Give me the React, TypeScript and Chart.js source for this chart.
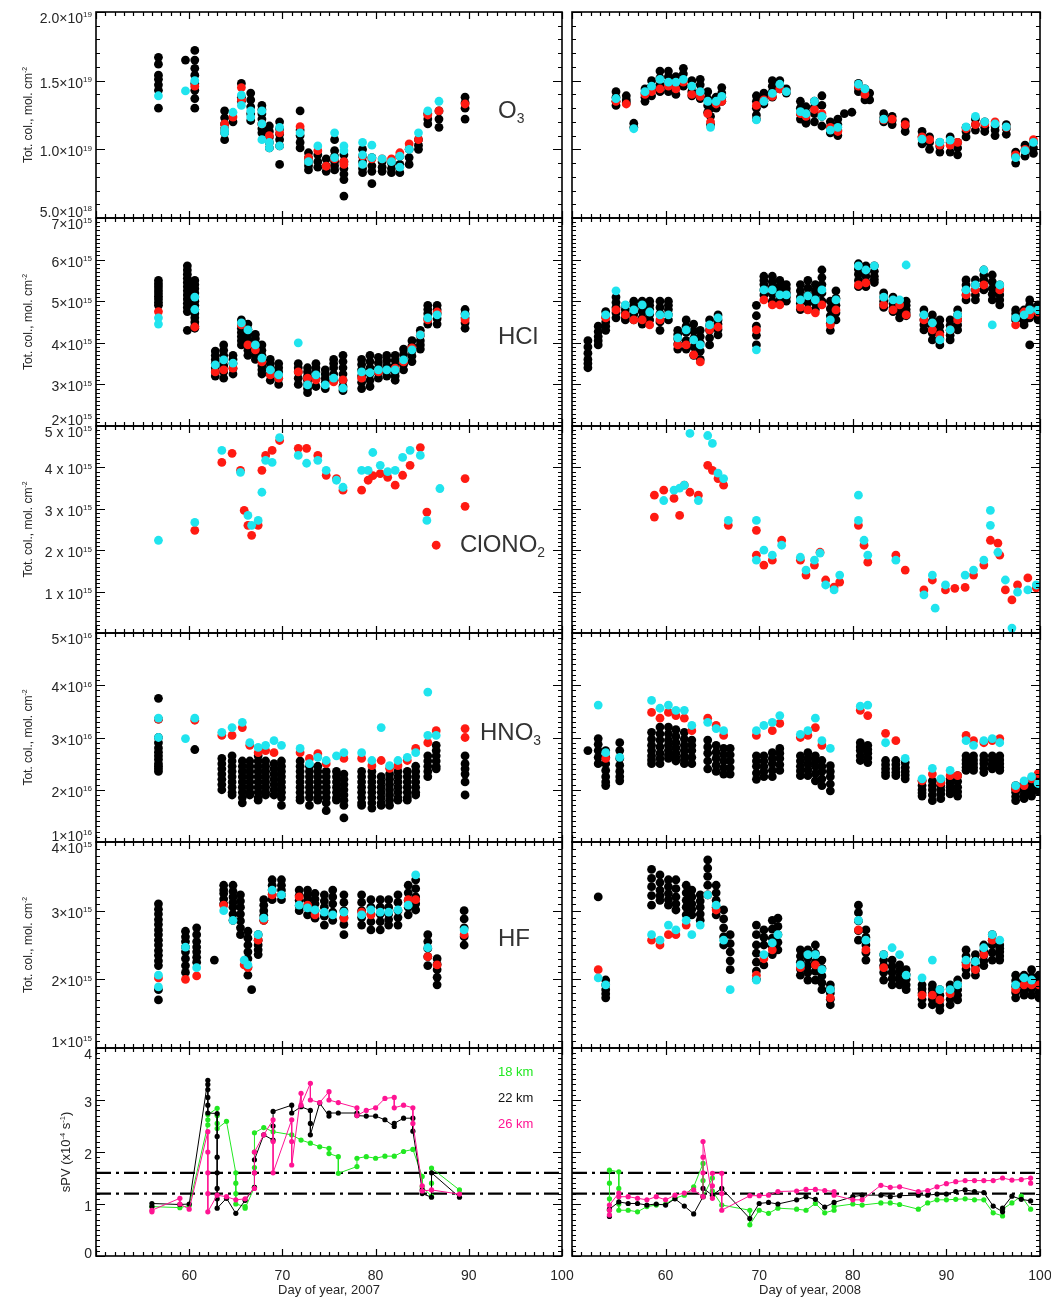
import React, { useEffect, useRef } from 'react';
import { Chart, registerables } from 'chart.js';
Chart.register(...registerables);

const FONT = '"Liberation Sans", Arial, Helvetica, sans-serif';

// ---------------- axes / tick labels ----------------
const DAY_MIN = 50;
const DAY_MAX = 100;
const DAY_TICK_LABELS = [60, 70, 80, 90, 100];
const YEARS = ['2007', '2008'];

const O3_TICKS = [5, 10, 15, 20];
const O3_TICK_TEXT = ['5.0×10', '1.0×10', '1.5×10', '2.0×10'];
const O3_TICK_EXP = ['18', '19', '19', '19'];
const HCL_TICKS = [2, 3, 4, 5, 6, 7];
const HCL_TICK_TEXT = ['2×10', '3×10', '4×10', '5×10', '6×10', '7×10'];
const HCL_TICK_EXP = ['15', '15', '15', '15', '15', '15'];
const CLONO2_TICKS = [1, 2, 3, 4, 5];
const CLONO2_TICK_TEXT = ['1 x 10', '2 x 10', '3 x 10', '4 x 10', '5 x 10'];
const CLONO2_TICK_EXP = ['15', '15', '15', '15', '15'];
const HNO3_TICKS = [1, 2, 3, 4, 5];
const HNO3_TICK_TEXT = ['1×10', '2×10', '3×10', '4×10', '5×10'];
const HNO3_TICK_EXP = ['16', '16', '16', '16', '16'];
const HF_TICKS = [1, 2, 3, 4];
const HF_TICK_TEXT = ['1×10', '2×10', '3×10', '4×10'];
const HF_TICK_EXP = ['15', '15', '15', '15'];
const SPV_TICKS = [0, 1, 2, 3, 4];
const SPV_TICK_TEXT = ['0', '1', '2', '3', '4'];
const SPV_TICK_EXP = ['', '', '', '', ''];
const SPV_LIMITS = [1.6, 1.2];

// ---------------- data: clusters [day, value, value, ...] ----------------
// O3 (1e18 molec/cm2)
const O3_L_BLACK = [
  [56.7, 16.7, 16.2, 15.4, 15.1, 14.7, 14.3, 13.0], [59.6, 16.5],
  [60.6, 17.2, 16.5, 15.9, 15.4, 14.8, 14.3, 13.7, 13.0], [63.8, 12.8, 12.3, 11.85, 11.5, 11.2, 10.7],
  [64.7, 12.0], [65.6, 14.8, 13.8, 13.5], [66.6, 14.1, 13.6, 13.1, 12.6, 12.1],
  [67.8, 13.2, 12.9, 12.6, 12.2, 11.85, 11.5, 11.2], [68.6, 11.7, 11.3, 10.9, 10.5, 10.1], [69.7, 12.0, 11.5, 11.1, 10.7, 10.25, 8.9],
  [71.9, 12.8, 11.4, 11.0, 10.5, 10.1], [72.8, 9.75, 9.4, 9.1, 8.8, 8.5], [73.8, 9.6, 9.1, 8.7], [74.7, 9.3, 8.8, 8.4],
  [75.6, 10.7, 9.9, 9.5, 9.1, 8.8, 8.5], [76.6, 9.6, 9.1, 8.6, 8.2, 7.8, 6.6], [78.6, 10.0, 9.5, 9.1, 8.6, 8.3],
  [79.6, 9.4, 8.8, 8.4, 7.5], [80.7, 9.1, 8.7, 8.4], [81.7, 9.0, 8.6, 8.3], [82.6, 9.5, 8.9, 8.3],
  [83.6, 10.0, 9.4, 8.9], [84.6, 10.7, 10.3, 10.0], [85.6, 12.6, 12.2, 11.85], [86.8, 12.8, 12.2, 11.6],
  [89.6, 13.8, 13.4, 13.0, 12.2],
];
const O3_L_RED = [
  [60.6, 14.6], [63.8, 11.85, 11.5], [64.7, 12.35], [65.6, 14.5, 13.6], [67.8, 11.85], [68.6, 11.0],
  [69.7, 11.2], [71.9, 11.65], [72.8, 9.4], [73.8, 9.9], [74.7, 8.77], [75.6, 9.3], [76.6, 9.1, 8.9],
  [78.6, 9.5], [79.6, 9.3], [80.7, 9.3], [81.7, 9.3], [82.6, 9.75], [83.6, 10.4], [84.6, 10.7],
  [85.6, 12.5], [86.8, 12.8], [89.6, 13.3],
];
const O3_L_CYAN = [
  [56.7, 13.9], [59.6, 14.25], [60.6, 15.0], [63.8, 11.2, 11.45], [64.7, 12.7], [65.6, 13.95, 13.2],
  [66.6, 12.8, 12.35], [67.8, 12.8, 11.85, 10.7], [68.6, 10.5, 10.1], [69.7, 11.6, 10.25], [71.9, 11.2],
  [72.8, 9.1], [73.8, 10.25], [75.6, 11.2, 9.4], [76.6, 10.25, 9.9], [78.6, 10.5, 9.6, 8.9],
  [79.6, 10.3, 9.4], [80.7, 9.3], [81.7, 9.1], [82.6, 9.5, 8.7], [83.6, 10.0], [84.6, 11.2],
  [85.6, 12.8], [86.8, 13.5],
];
const O3_R_BLACK = [
  [54.7, 14.2, 13.8, 13.5, 13.2], [55.8, 13.9, 13.6, 13.4], [56.6, 11.9, 11.6], [57.8, 14.4, 14.1, 13.8, 13.5],
  [58.5, 15.0, 14.6, 14.3, 13.9], [59.4, 15.7, 15.2, 14.7, 14.2], [60.3, 15.7, 15.3, 14.9, 14.5, 14.2],
  [61.1, 15.3, 14.9, 14.5, 14.0], [61.9, 15.9, 15.5, 15.0, 14.6], [62.8, 15.0, 14.6, 14.2, 13.9],
  [63.7, 15.1, 14.7, 14.2, 13.7], [64.5, 14.2, 13.7, 13.2, 12.7], [64.8, 13.5, 13.0, 12.4, 11.8],
  [65.4, 13.8, 13.4, 13.0], [66.0, 14.5, 14.1, 13.8, 13.5], [69.7, 13.9, 13.5, 13.0, 12.5, 12.2],
  [70.5, 14.1, 13.8, 13.5, 13.3], [71.4, 15.0, 14.6, 14.2, 13.8], [72.2, 15.0, 14.7, 14.4], [72.9, 14.4, 14.1],
  [74.4, 13.5, 13.0, 12.6, 12.2], [75.0, 13.1, 12.7, 12.2, 11.9], [75.9, 13.5, 13.1, 12.6, 12.0],
  [76.7, 13.9, 13.2, 12.4, 11.7], [77.6, 12.0, 11.6, 11.2], [78.4, 12.2, 11.8, 11.4, 11.0], [79.1, 12.6],
  [79.9, 12.7], [80.6, 14.8, 14.5, 14.2], [81.3, 14.4, 14.0, 13.6], [81.8, 14.1, 13.6],
  [83.3, 12.6, 12.3, 12.0], [84.2, 12.4, 12.1, 11.8], [85.6, 12.0, 11.7, 11.3], [87.4, 11.3, 10.9, 10.4],
  [88.2, 10.9, 10.5, 10.0], [89.3, 10.5, 10.2, 9.8], [90.4, 10.9, 10.5, 9.8], [91.2, 10.5, 10.1, 9.6],
  [92.1, 11.6, 11.3, 10.9], [93.1, 12.2, 11.8, 11.4], [94.1, 12.0, 11.6, 11.3], [95.2, 11.7, 11.4, 11.0],
  [96.4, 11.8, 11.5, 11.1], [97.4, 9.8, 9.5, 9.0], [98.4, 10.3, 9.9, 9.5], [99.3, 10.5, 10.1, 9.7],
];
const O3_R_RED = [
  [54.7, 13.5], [55.8, 13.3], [57.8, 14.0], [58.5, 14.2], [59.4, 14.4], [60.3, 14.6], [61.1, 14.4],
  [61.9, 14.9], [62.8, 14.0], [63.7, 13.85], [64.5, 12.6], [64.8, 12.0], [65.4, 13.3], [66.0, 13.5],
  [69.7, 13.2], [70.5, 13.6], [71.4, 13.85], [72.2, 14.4], [74.4, 12.6], [75.0, 12.4], [75.9, 12.9],
  [76.7, 12.6], [77.6, 11.6], [78.4, 11.3], [80.6, 14.6], [81.3, 14.0], [83.3, 12.15], [84.2, 12.2],
  [85.6, 11.8], [87.4, 10.9], [88.2, 10.7], [89.3, 10.3], [90.4, 10.3], [91.2, 10.5], [92.1, 11.5],
  [93.1, 11.8], [94.1, 11.85], [95.2, 12.0], [96.4, 11.6], [97.4, 9.6], [98.4, 10.0], [99.3, 10.7],
];
const O3_R_CYAN = [
  [54.7, 13.7], [56.6, 11.5], [57.8, 14.2], [58.5, 14.6], [59.4, 15.1], [60.3, 14.9], [61.1, 14.9],
  [61.9, 15.1], [62.8, 14.6], [63.7, 14.2], [64.5, 13.5], [64.8, 11.6], [65.4, 13.5], [66.0, 13.85],
  [69.7, 12.15], [70.5, 13.5], [71.4, 14.07], [72.2, 14.74], [72.9, 14.2], [74.4, 12.74], [75.0, 12.6],
  [75.9, 13.5], [76.7, 12.4], [77.6, 11.4], [78.4, 11.6], [80.6, 14.74], [81.3, 14.4], [83.3, 12.2],
  [87.4, 10.74], [89.3, 10.52], [90.4, 10.67], [92.1, 11.63], [93.1, 12.4], [94.1, 12.0], [95.2, 11.85],
  [96.4, 11.63], [97.4, 9.4], [98.4, 9.9], [99.3, 10.5],
];

// HCl (1e15 molec/cm2)
const HCL_L_BLACK = [
  [56.7, 5.5, 5.42, 5.35, 5.27, 5.2, 5.12, 5.05, 4.97, 4.9],
  [59.8, 5.85, 5.75, 5.65, 5.55, 5.45, 5.35, 5.25, 5.15, 5.05, 4.95, 4.85, 4.75, 4.3],
  [60.6, 5.5, 5.4, 5.3, 5.2, 5.1, 5.0, 4.9, 4.8, 4.7, 4.6, 4.5, 4.4, 4.35],
  [62.8, 3.8, 3.7, 3.6, 3.5, 3.4, 3.3, 3.2], [63.7, 3.95, 3.82, 3.7, 3.58, 3.45, 3.3, 3.15],
  [64.7, 3.7, 3.6, 3.5, 3.38, 3.25], [65.6, 4.55, 4.45, 4.35, 4.25, 4.15, 4.05, 3.95],
  [66.3, 4.45, 4.32, 4.2, 4.08, 3.95, 3.82, 3.7], [67.1, 4.2, 4.1, 4.0, 3.9, 3.8, 3.7, 3.6],
  [67.8, 3.95, 3.82, 3.7, 3.58, 3.45, 3.35, 3.25], [68.7, 3.6, 3.5, 3.4, 3.25, 3.1],
  [69.6, 3.5, 3.4, 3.3, 3.15, 3.0], [71.7, 3.5, 3.4, 3.3, 3.15, 3.0],
  [72.7, 3.4, 3.3, 3.2, 3.1, 3.0, 2.9, 2.8], [73.6, 3.5, 3.4, 3.3, 3.15, 2.95],
  [74.6, 3.35, 3.25, 3.15, 3.05, 2.9], [75.5, 3.6, 3.5, 3.4, 3.25, 3.1],
  [76.5, 3.7, 3.55, 3.4, 3.25, 3.1, 2.95, 2.85], [78.5, 3.6, 3.48, 3.35, 3.2, 3.05, 2.9],
  [79.4, 3.7, 3.55, 3.4, 3.25, 3.1, 2.95], [80.3, 3.65, 3.52, 3.4, 3.28, 3.15],
  [81.2, 3.7, 3.58, 3.45, 3.32, 3.2], [82.1, 3.7, 3.58, 3.45, 3.3, 3.2, 3.1],
  [83.0, 3.85, 3.72, 3.6, 3.48, 3.35], [83.9, 4.05, 3.92, 3.8, 3.68, 3.55],
  [84.8, 4.3, 4.18, 4.05, 3.95, 3.85], [85.6, 4.9, 4.8, 4.7, 4.58, 4.45],
  [86.6, 4.9, 4.8, 4.7, 4.58, 4.45], [89.6, 4.8, 4.7, 4.6, 4.48, 4.35],
];
const HCL_L_RED = [
  [56.7, 4.75], [60.6, 4.38], [62.8, 3.3], [63.7, 3.35], [64.7, 3.39], [65.6, 4.43], [66.3, 3.95],
  [67.1, 3.83], [67.8, 3.54], [68.7, 3.23], [69.6, 3.15], [71.7, 3.3], [72.7, 3.15], [73.6, 3.11],
  [75.5, 3.06], [76.5, 3.11], [78.5, 3.15], [80.3, 3.3], [82.1, 3.39], [83.0, 3.54], [83.9, 3.88],
  [84.8, 4.19], [85.6, 4.55], [86.6, 4.74], [89.6, 4.55],
];
const HCL_L_CYAN = [
  [56.7, 4.6, 4.45], [60.6, 5.1, 4.8], [62.8, 3.47], [63.7, 3.59], [64.7, 3.51], [65.6, 4.48],
  [66.3, 4.31], [67.1, 3.95], [67.8, 3.63], [68.7, 3.35], [69.6, 3.23], [71.7, 4.0], [72.7, 2.99],
  [73.6, 3.23], [74.6, 2.99], [75.5, 3.15], [76.5, 2.91], [78.5, 3.3], [79.4, 3.28], [80.3, 3.35],
  [81.2, 3.35], [82.1, 3.35], [83.0, 3.59], [83.9, 3.83], [84.8, 4.19], [85.6, 4.6], [86.6, 4.67],
  [89.6, 4.67],
];
const HCL_R_BLACK = [
  [51.7, 4.05, 3.9, 3.75, 3.6, 3.5, 3.4], [52.8, 4.4, 4.27, 4.15, 4.05, 3.95], [53.6, 4.75, 4.62, 4.5, 4.4, 4.3],
  [54.7, 5.1, 4.97, 4.85, 4.72, 4.6], [55.7, 4.9, 4.8, 4.7, 4.62, 4.55], [56.6, 5.0, 4.9, 4.8, 4.68, 4.55],
  [57.5, 5.0, 4.88, 4.75, 4.6, 4.45], [58.3, 5.0, 4.9, 4.8, 4.68, 4.55], [59.4, 5.0, 4.85, 4.7, 4.5, 4.3],
  [60.3, 5.0, 4.9, 4.8, 4.68, 4.55], [61.3, 4.3, 4.2, 4.1, 3.97, 3.85], [62.2, 4.55, 4.4, 4.25, 4.05, 3.85],
  [63.0, 4.45, 4.28, 4.1, 3.9, 3.7], [63.7, 4.3, 4.15, 4.0, 3.8, 3.6], [64.7, 4.55, 4.42, 4.3, 4.12, 3.95],
  [65.6, 4.67, 4.55, 4.45, 4.32, 4.19], [69.7, 4.9, 4.65, 4.4, 4.18, 3.95], [70.5, 5.6, 5.5, 5.4, 5.27, 5.15],
  [71.4, 5.6, 5.47, 5.35, 5.17, 5.0], [72.2, 5.5, 5.37, 5.25, 5.12, 5.0], [72.9, 5.4, 5.3, 5.2, 5.1, 5.0],
  [74.4, 5.4, 5.25, 5.1, 4.95, 4.8], [75.2, 5.5, 5.32, 5.15, 4.97, 4.8], [76.0, 5.4, 5.25, 5.1, 4.95, 4.8],
  [76.7, 5.75, 5.57, 5.4, 5.2, 5.0], [77.6, 5.0, 4.82, 4.65, 4.47, 4.3], [78.2, 5.25, 5.07, 4.9, 4.72, 4.55],
  [80.6, 5.9, 5.77, 5.65, 5.5, 5.35], [81.4, 5.85, 5.72, 5.6, 5.47, 5.35], [82.3, 5.85, 5.72, 5.6, 5.52, 5.45],
  [83.3, 5.2, 5.1, 5.0, 4.92, 4.85], [84.3, 5.1, 5.02, 4.95, 4.85, 4.75], [85.0, 5.0, 4.92, 4.85, 4.72, 4.6],
  [85.7, 5.0, 4.9, 4.8, 4.72, 4.65], [87.6, 4.79, 4.67, 4.55, 4.43, 4.31], [88.5, 4.67, 4.53, 4.4, 4.23, 4.07],
  [89.3, 4.55, 4.4, 4.25, 4.1, 3.95], [90.4, 4.55, 4.42, 4.3, 4.18, 4.07], [91.2, 4.79, 4.67, 4.55, 4.43, 4.31],
  [92.1, 5.51, 5.39, 5.27, 5.15, 5.03], [93.1, 5.51, 5.39, 5.27, 5.15, 5.03], [94.0, 5.75, 5.63, 5.51, 5.39, 5.27],
  [94.9, 5.63, 5.47, 5.3, 5.17, 5.03], [95.7, 5.39, 5.27, 5.15, 5.03, 4.91], [97.4, 4.79, 4.7, 4.6, 4.55],
  [98.3, 4.79, 4.7, 4.6, 4.52, 4.43], [98.9, 5.03, 4.9, 4.78, 4.6, 3.95], [99.8, 4.91, 4.8, 4.7, 4.62, 4.55],
];
const HCL_R_RED = [
  [53.6, 4.6], [54.7, 4.79], [55.7, 4.67], [56.6, 4.55], [57.5, 4.55], [58.3, 4.43], [59.4, 4.55],
  [61.3, 3.95], [62.2, 3.95], [63.0, 3.71], [63.7, 3.54], [64.7, 4.31], [65.6, 4.38], [69.7, 4.31],
  [70.5, 5.03], [71.4, 4.91], [72.2, 4.91], [74.4, 4.86], [75.2, 4.79], [76.0, 4.72], [76.7, 4.91],
  [77.6, 4.43], [78.2, 4.79], [80.6, 5.39], [81.4, 5.44], [83.3, 4.91], [84.3, 4.79], [85.0, 4.91],
  [85.7, 4.67], [87.6, 4.55], [88.5, 4.31], [89.3, 4.19], [90.4, 4.31], [91.2, 4.55], [92.1, 5.15],
  [93.1, 5.27], [94.0, 5.39], [95.7, 5.27], [97.4, 4.43], [98.3, 4.74], [98.9, 4.67], [99.8, 4.74],
];
const HCL_R_CYAN = [
  [53.6, 4.67], [54.7, 5.25], [55.7, 4.91], [56.6, 4.79], [57.5, 4.91], [58.3, 4.74], [59.4, 4.67],
  [60.3, 4.67], [61.3, 4.12], [62.2, 4.31], [63.0, 4.07], [63.7, 3.95], [64.7, 4.43], [65.6, 4.6],
  [69.7, 3.83], [70.5, 5.27], [71.4, 5.27], [72.2, 5.15], [72.9, 5.15], [74.4, 5.03], [75.2, 5.13],
  [76.0, 5.03], [76.7, 5.27], [77.6, 4.55], [78.2, 5.03], [80.6, 5.85], [81.4, 5.75], [82.3, 5.85],
  [83.3, 5.1], [84.3, 5.03], [85.0, 5.03], [85.7, 5.87], [87.6, 4.67], [88.5, 4.48], [89.3, 4.07],
  [90.4, 4.31], [91.2, 4.67], [92.1, 5.27], [93.1, 5.39], [94.0, 5.75], [94.9, 4.43], [95.7, 5.39],
  [97.4, 4.6], [98.3, 4.67], [98.9, 4.79], [99.8, 4.79],
];

// ClONO2 (1e15 molec/cm2)
const CLONO2_L_RED = [
  [60.6, 2.48], [63.5, 4.12], [64.6, 4.34], [65.5, 3.93], [65.9, 2.96], [66.3, 2.6], [66.7, 2.36],
  [67.4, 2.6], [67.8, 3.93], [68.2, 4.29], [68.9, 4.41], [69.7, 4.65], [71.7, 4.46], [72.6, 4.46],
  [73.8, 4.29], [74.7, 3.81], [75.8, 3.73], [76.5, 3.45], [78.5, 3.45], [79.2, 3.69], [79.7, 3.8],
  [80.5, 3.85], [81.3, 3.76], [82.1, 3.57], [82.9, 3.81], [83.7, 4.05], [84.8, 4.48], [85.5, 2.92],
  [86.5, 2.12], [89.6, 3.73, 3.06],
];
const CLONO2_L_CYAN = [
  [56.7, 2.24], [60.6, 2.67], [63.5, 4.41], [65.5, 3.88], [66.3, 2.84], [66.7, 2.6], [67.4, 2.72],
  [67.8, 3.4], [68.2, 4.17], [68.9, 4.12], [69.7, 4.72], [71.7, 4.29], [72.6, 4.1], [73.8, 4.17],
  [74.7, 3.93], [75.8, 3.69], [76.5, 3.52], [78.5, 3.93], [79.2, 3.93], [79.7, 4.36], [80.5, 4.05],
  [81.3, 3.9], [82.1, 3.93], [82.9, 4.24], [83.7, 4.41], [84.8, 4.29], [85.5, 2.72], [86.9, 3.49],
];
const CLONO2_R_RED = [
  [58.8, 3.33, 2.8], [59.8, 3.45], [60.9, 3.25], [61.5, 2.84], [62.0, 3.57], [62.6, 3.4], [63.5, 3.33],
  [64.5, 4.05], [65.0, 3.93], [65.6, 3.73], [66.2, 3.57], [66.7, 2.6], [69.7, 2.48, 1.88], [70.5, 1.64],
  [71.4, 1.76], [72.4, 2.24], [74.4, 1.76], [75.0, 1.4], [75.9, 1.64], [76.5, 1.95], [77.1, 1.28],
  [78.0, 1.11], [78.6, 1.23], [80.6, 2.6], [81.2, 2.12], [81.6, 1.71], [84.6, 1.88], [85.6, 1.52],
  [87.6, 1.04], [88.5, 1.28], [89.9, 1.04], [90.9, 1.08], [92.0, 1.1], [92.9, 1.4], [94.0, 1.64],
  [94.7, 2.24], [95.5, 2.17], [95.7, 1.88], [96.3, 1.04], [97.0, 0.8], [97.6, 1.16], [98.7, 1.33],
  [99.6, 1.09],
];
const CLONO2_R_CYAN = [
  [59.8, 3.2], [60.9, 3.45], [61.5, 3.5], [62.0, 3.57], [62.6, 4.82], [63.5, 3.2], [64.5, 4.77],
  [65.0, 4.58], [65.6, 3.86], [66.2, 3.73], [66.7, 2.72], [69.7, 2.72, 1.76], [70.5, 2.0], [71.4, 1.88],
  [72.4, 2.12], [74.4, 1.83], [75.0, 1.52], [75.9, 1.76], [76.5, 1.93], [77.1, 1.16], [78.0, 1.04],
  [78.6, 1.4], [80.6, 3.33, 2.72], [81.2, 2.24], [81.6, 1.88], [84.6, 1.76], [87.6, 0.92], [88.5, 1.4],
  [88.8, 0.6], [89.9, 1.16], [92.0, 1.4], [92.9, 1.52], [94.0, 1.76], [94.7, 2.96, 2.6], [95.5, 1.95],
  [96.3, 1.28], [97.0, 0.12], [97.6, 0.99], [98.7, 1.04], [99.6, 1.16],
];

// HNO3 (1e16 molec/cm2)
const HNO3_L_BLACK = [
  [56.7, 3.75, 3.35, 3.0, 2.9, 2.8, 2.72, 2.65, 2.58, 2.5, 2.45, 2.4, 2.35], [60.6, 2.77],
  [63.5, 2.6, 2.5, 2.4, 2.3, 2.2, 2.1, 2.0], [64.6, 2.65, 2.55, 2.45, 2.35, 2.25, 2.15, 2.05, 1.95, 1.9],
  [65.7, 2.55, 2.45, 2.35, 2.25, 2.15, 2.05, 1.95, 1.85, 1.75], [66.5, 2.55, 2.45, 2.35, 2.25, 2.15, 2.05, 1.95, 1.9],
  [67.4, 2.65, 2.55, 2.45, 2.35, 2.25, 2.15, 2.05, 1.95, 1.85, 1.8], [68.2, 2.55, 2.45, 2.35, 2.25, 2.15, 2.05, 1.95, 1.9],
  [69.1, 2.5, 2.4, 2.3, 2.2, 2.1, 2.0, 1.9], [69.9, 2.55, 2.45, 2.35, 2.25, 2.15, 2.05, 1.95, 1.85, 1.7],
  [71.9, 2.55, 2.45, 2.35, 2.25, 2.15, 2.05, 1.95, 1.85, 1.8], [72.9, 2.45, 2.35, 2.25, 2.15, 2.05, 1.95, 1.85, 1.7],
  [73.8, 2.45, 2.35, 2.25, 2.15, 2.05, 1.95, 1.85, 1.8], [74.7, 2.35, 2.25, 2.15, 2.05, 1.95, 1.85, 1.75, 1.6],
  [75.8, 2.35, 2.25, 2.15, 2.05, 1.95, 1.85, 1.8], [76.6, 2.3, 2.2, 2.1, 2.0, 1.9, 1.8, 1.7, 1.46],
  [78.5, 2.35, 2.25, 2.15, 2.05, 1.95, 1.85, 1.75, 1.7], [79.6, 2.35, 2.25, 2.15, 2.05, 1.95, 1.85, 1.75, 1.65],
  [80.6, 2.25, 2.15, 2.05, 1.95, 1.85, 1.75, 1.7], [81.5, 2.3, 2.2, 2.1, 2.0, 1.9, 1.8, 1.7],
  [82.4, 2.35, 2.25, 2.15, 2.05, 1.95, 1.85, 1.8], [83.4, 2.35, 2.25, 2.15, 2.05, 1.95, 1.85, 1.8],
  [84.3, 2.45, 2.35, 2.25, 2.15, 2.05, 1.95, 1.9], [85.6, 2.65, 2.55, 2.45, 2.35, 2.25],
  [86.5, 2.85, 2.75, 2.65, 2.55, 2.45, 2.4], [89.6, 2.65, 2.5, 2.4, 2.3, 2.15, 1.9],
];
const HNO3_L_RED = [
  [56.7, 3.35], [60.6, 3.33], [63.5, 3.04], [64.6, 3.04], [65.7, 3.19], [66.5, 2.85], [67.4, 2.71],
  [68.2, 2.75], [69.1, 2.71], [71.9, 2.71], [72.9, 2.6], [73.8, 2.69], [74.7, 2.5], [76.6, 2.6],
  [78.5, 2.6], [79.6, 2.46], [80.6, 2.56], [81.5, 2.41], [82.4, 2.46], [83.4, 2.56], [84.3, 2.79],
  [85.6, 2.9], [86.5, 3.13], [89.6, 3.17, 3.0],
];
const HNO3_L_CYAN = [
  [56.7, 3.37, 3.0], [59.6, 2.98], [60.6, 3.37], [63.5, 3.1], [64.6, 3.19], [65.7, 3.29], [66.5, 2.9],
  [67.4, 2.81], [68.2, 2.85], [69.1, 2.94], [69.9, 2.85], [71.9, 2.79], [72.9, 2.5], [73.8, 2.62],
  [74.7, 2.56], [75.8, 2.65], [76.6, 2.71], [78.5, 2.71], [79.6, 2.56], [80.6, 3.19], [81.5, 2.46],
  [82.4, 2.56], [83.4, 2.62], [84.3, 2.71], [85.6, 3.87, 3.04], [86.5, 3.04],
];
const HNO3_R_BLACK = [
  [51.7, 2.75], [52.8, 2.98, 2.87, 2.75, 2.62, 2.5], [53.6, 2.75, 2.62, 2.5, 2.37, 2.25, 2.15, 2.08],
  [55.1, 2.9, 2.75, 2.6, 2.47, 2.35, 2.25, 2.17], [58.5, 3.1, 2.97, 2.85, 2.75, 2.65, 2.57, 2.5],
  [59.4, 3.2, 3.07, 2.95, 2.82, 2.7, 2.6, 2.5], [60.3, 3.2, 3.07, 2.95, 2.85, 2.75, 2.67, 2.6],
  [61.1, 3.15, 3.02, 2.9, 2.8, 2.7, 2.62, 2.55], [62.0, 3.1, 2.97, 2.85, 2.75, 2.65, 2.57, 2.5],
  [62.8, 2.95, 2.85, 2.75, 2.62, 2.5], [64.5, 2.95, 2.82, 2.7, 2.55, 2.4], [65.4, 2.85, 2.72, 2.6, 2.47, 2.35],
  [66.2, 2.79, 2.67, 2.55, 2.42, 2.3], [66.9, 2.79, 2.67, 2.55, 2.42, 2.3], [69.7, 2.65, 2.55, 2.45, 2.32, 2.2],
  [70.5, 2.65, 2.55, 2.45, 2.35, 2.25], [71.4, 2.71, 2.6, 2.5, 2.37, 2.25], [72.2, 2.79, 2.7, 2.6, 2.48, 2.37],
  [74.4, 2.65, 2.55, 2.45, 2.36, 2.27], [75.2, 2.71, 2.6, 2.5, 2.38, 2.27], [76.0, 2.65, 2.55, 2.45, 2.31, 2.17],
  [76.7, 2.56, 2.45, 2.35, 2.21, 2.08], [77.6, 2.46, 2.35, 2.25, 2.11, 1.98], [80.8, 2.9, 2.82, 2.75, 2.65, 2.56],
  [81.6, 2.85, 2.77, 2.7, 2.61, 2.52], [83.5, 2.56, 2.48, 2.4, 2.33, 2.27], [84.6, 2.56, 2.48, 2.4, 2.33, 2.27],
  [85.6, 2.52, 2.43, 2.35, 2.28, 2.21], [87.4, 2.17, 2.08, 2.0, 1.94, 1.88], [88.5, 2.17, 2.08, 2.0, 1.9, 1.79],
  [89.4, 2.17, 2.08, 2.0, 1.92, 1.83], [90.4, 2.21, 2.13, 2.05, 1.98, 1.92], [91.2, 2.27, 2.16, 2.05, 1.96, 1.88],
  [92.1, 2.65, 2.57, 2.5, 2.43, 2.37], [92.9, 2.65, 2.57, 2.5, 2.43, 2.37], [94.0, 2.65, 2.57, 2.5, 2.41, 2.33],
  [94.9, 2.65, 2.57, 2.5, 2.45, 2.4], [95.7, 2.65, 2.57, 2.5, 2.43, 2.37], [97.4, 2.08, 2.01, 1.95, 1.87, 1.79],
  [98.3, 2.12, 2.05, 1.98, 1.9, 1.83], [99.1, 2.17, 2.08, 2.0, 1.94, 1.88], [99.8, 2.27, 2.18, 2.1, 2.04, 1.98],
];
const HNO3_R_RED = [
  [53.6, 2.6], [58.5, 3.48], [59.4, 3.37], [60.3, 3.48], [61.1, 3.42], [62.0, 3.37], [62.8, 3.13],
  [64.5, 3.37], [65.4, 3.23], [66.2, 3.04], [69.7, 3.04], [71.4, 3.13], [72.2, 3.27], [74.4, 3.0],
  [75.2, 3.04], [76.0, 3.19], [76.7, 2.85], [80.8, 3.52], [81.6, 3.42], [83.5, 3.08], [84.6, 2.94],
  [87.4, 2.17], [88.5, 2.3], [89.4, 2.13], [90.4, 2.27], [91.2, 2.27], [92.1, 3.04], [92.9, 2.94],
  [94.0, 2.9], [94.9, 2.94], [95.7, 2.98], [97.4, 2.02], [98.3, 2.08], [99.1, 2.21], [99.8, 2.31],
];
const HNO3_R_CYAN = [
  [52.8, 3.62], [53.6, 2.71], [55.1, 2.62], [58.5, 3.71], [59.4, 3.56], [60.3, 3.62], [61.1, 3.52],
  [62.0, 3.52], [62.8, 3.23], [64.5, 3.29], [65.4, 3.17], [66.2, 3.13], [69.7, 3.13], [70.5, 3.23],
  [71.4, 3.29], [72.2, 3.42], [74.4, 3.06], [75.2, 3.13], [76.0, 3.37], [76.7, 2.94], [77.6, 2.79],
  [80.8, 3.6], [81.6, 3.62], [83.5, 2.9], [85.6, 2.6], [87.4, 2.21], [88.5, 2.41], [89.4, 2.21],
  [90.4, 2.37], [92.1, 2.94], [92.9, 2.85], [94.0, 2.94], [94.9, 2.98], [95.7, 2.9], [97.4, 2.08],
  [98.3, 2.17], [99.1, 2.25], [99.8, 2.12],
];

// HF (1e15 molec/cm2)
const HF_L_BLACK = [
  [56.7, 3.1, 3.02, 2.95, 2.87, 2.8, 2.72, 2.65, 2.57, 2.5, 2.42, 2.35, 2.27, 2.2, 1.85, 1.7],
  [59.6, 2.7, 2.62, 2.55, 2.47, 2.4, 2.3, 2.2, 2.1], [60.8, 2.75, 2.65, 2.55, 2.47, 2.4, 2.32, 2.25],
  [62.7, 2.28], [63.7, 3.37, 3.3, 3.25, 3.17, 3.1], [64.7, 3.37, 3.28, 3.2, 3.12, 3.05, 2.95, 2.86],
  [65.5, 3.23, 3.14, 3.05, 2.95, 2.85, 2.75, 2.65], [66.3, 2.7, 2.6, 2.5, 2.4, 2.3, 2.18, 2.06], [66.7, 1.85],
  [67.4, 2.65, 2.57, 2.5, 2.43, 2.36], [68.0, 3.16, 3.08, 3.0, 2.93, 2.86], [68.9, 3.45, 3.37, 3.3, 3.23, 3.16],
  [69.9, 3.45, 3.37, 3.3, 3.23, 3.16], [71.8, 3.3, 3.22, 3.15, 3.07, 3.0], [72.7, 3.3, 3.22, 3.15, 3.05, 2.94],
  [73.5, 3.25, 3.17, 3.1, 3.0, 2.89], [74.5, 3.23, 3.14, 3.05, 2.92, 2.79], [75.4, 3.3, 3.2, 3.1, 2.98, 2.86],
  [76.6, 3.23, 3.12, 3.0, 2.9, 2.8, 2.65], [78.5, 3.23, 3.12, 3.0, 2.9, 2.79], [79.5, 3.16, 3.05, 2.95, 2.84, 2.72],
  [80.5, 3.16, 3.05, 2.95, 2.84, 2.72], [81.4, 3.16, 3.05, 2.95, 2.87, 2.79], [82.4, 3.23, 3.12, 3.0, 2.9, 2.79],
  [83.5, 3.37, 3.26, 3.15, 3.05, 2.94], [84.3, 3.45, 3.32, 3.2, 3.1, 3.01], [85.6, 2.65, 2.55, 2.45, 2.33, 2.2],
  [86.6, 2.3, 2.22, 2.14, 2.03, 1.92], [89.5, 3.0, 2.88, 2.75, 2.62, 2.5],
];
const HF_L_RED = [
  [56.7, 2.02], [59.6, 2.0], [60.8, 2.05], [63.7, 3.08], [65.9, 2.21], [66.3, 2.17], [67.4, 2.57],
  [68.0, 2.86], [68.9, 3.23], [71.8, 3.2], [72.7, 3.08], [73.5, 2.94], [76.6, 2.89], [78.5, 2.98],
  [79.5, 2.94], [83.5, 3.16], [84.3, 3.16], [85.6, 2.33], [86.6, 2.21], [89.5, 2.65],
];
const HF_L_CYAN = [
  [56.7, 2.06, 1.89], [59.6, 2.47], [60.8, 2.17], [63.7, 3.0], [64.7, 2.86], [65.9, 2.28], [66.3, 2.21],
  [67.4, 2.65], [68.0, 2.89], [68.9, 3.3], [69.9, 3.23], [71.8, 3.08], [72.7, 3.04], [73.5, 3.01],
  [74.5, 2.98], [75.4, 2.94], [76.6, 2.98], [78.5, 2.94], [79.5, 3.01], [80.5, 2.98], [81.4, 2.98],
  [82.4, 3.01], [83.5, 3.08], [84.3, 3.52], [85.6, 2.46], [89.5, 2.72],
];
const HF_R_BLACK = [
  [52.8, 3.2], [53.6, 1.99, 1.92, 1.85, 1.79, 1.73], [58.5, 3.6, 3.47, 3.35, 3.22, 3.08],
  [59.4, 3.52, 3.41, 3.3, 3.22, 3.15], [60.3, 3.45, 3.35, 3.25, 3.16, 3.08], [61.1, 3.45, 3.32, 3.2, 3.1, 3.01],
  [62.2, 3.37, 3.26, 3.15, 3.05, 2.94], [62.8, 3.3, 3.2, 3.1, 3.02, 2.94], [63.7, 3.23, 3.14, 3.05, 2.95, 2.86],
  [64.5, 3.74, 3.62, 3.5, 3.37, 3.23], [65.4, 3.37, 3.26, 3.15, 3.05, 2.94], [66.2, 3.01, 2.88, 2.75, 2.62, 2.5],
  [66.9, 2.65, 2.52, 2.4, 2.27, 2.14], [69.7, 2.79, 2.65, 2.5, 2.38, 2.25, 2.12, 2.0],
  [70.5, 2.72, 2.61, 2.5, 2.35, 2.21], [71.4, 2.86, 2.73, 2.6, 2.48, 2.36], [72.0, 2.89, 2.77, 2.65, 2.54, 2.43],
  [74.4, 2.43, 2.34, 2.25, 2.15, 2.06], [75.2, 2.43, 2.31, 2.2, 2.1, 1.99], [76.0, 2.5, 2.38, 2.25, 2.12, 1.99],
  [76.7, 2.28, 2.16, 2.05, 1.95, 1.85], [77.6, 1.92, 1.86, 1.8, 1.71, 1.63], [80.6, 3.08, 2.97, 2.85, 2.71, 2.57],
  [81.4, 2.72, 2.61, 2.5, 2.39, 2.28], [83.3, 2.36, 2.28, 2.2, 2.1, 1.99], [84.2, 2.28, 2.19, 2.1, 2.01, 1.92],
  [85.0, 2.21, 2.13, 2.05, 1.98, 1.92], [85.7, 2.14, 2.07, 2.0, 1.92, 1.85], [87.4, 1.92, 1.86, 1.8, 1.71, 1.63],
  [88.5, 1.92, 1.86, 1.8, 1.71, 1.63], [89.3, 1.85, 1.77, 1.7, 1.62, 1.55], [90.4, 1.92, 1.86, 1.8, 1.71, 1.63],
  [91.2, 1.99, 1.92, 1.85, 1.77, 1.7], [92.1, 2.43, 2.34, 2.25, 2.15, 2.06], [93.1, 2.36, 2.28, 2.2, 2.13, 2.06],
  [94.0, 2.5, 2.42, 2.35, 2.27, 2.2], [94.9, 2.65, 2.57, 2.5, 2.39, 2.28], [95.7, 2.5, 2.45, 2.4, 2.34, 2.28],
  [97.4, 2.06, 1.98, 1.9, 1.81, 1.73], [98.3, 2.06, 1.98, 1.9, 1.83, 1.77], [99.1, 2.14, 2.04, 1.95, 1.86, 1.77],
  [99.9, 2.06, 1.98, 1.9, 1.81, 1.73],
];
const HF_R_RED = [
  [52.8, 2.14], [58.5, 2.57], [59.4, 2.5], [60.3, 2.65], [61.1, 2.65], [62.2, 2.79], [64.5, 3.23],
  [65.4, 3.01], [69.7, 2.06], [70.5, 2.3], [71.4, 2.43], [74.4, 2.17], [76.0, 2.21], [77.6, 1.73],
  [80.6, 2.72], [81.4, 2.43], [83.3, 2.17], [87.4, 1.77], [88.5, 1.77], [89.3, 1.7], [90.4, 1.79],
  [92.1, 2.21], [93.1, 2.14], [94.0, 2.36], [94.9, 2.57], [97.4, 1.85], [98.3, 1.92], [99.1, 1.92],
  [99.9, 1.92],
];
const HF_R_CYAN = [
  [52.8, 2.02], [53.6, 1.92], [58.5, 2.65], [59.4, 2.57], [60.3, 2.79], [61.1, 2.72], [62.2, 2.86],
  [62.8, 2.65], [63.7, 2.79], [64.5, 3.23], [65.4, 3.08], [66.2, 2.57], [66.9, 1.85], [69.7, 1.99],
  [70.5, 2.36], [71.4, 2.53], [72.0, 2.65], [74.4, 2.21], [75.2, 2.36], [76.0, 2.36], [76.7, 2.14],
  [77.6, 1.85], [80.6, 2.86], [81.4, 2.57], [83.3, 2.36], [84.2, 2.46], [85.0, 2.36], [85.7, 2.06],
  [87.4, 2.02], [88.5, 2.28], [89.3, 1.85], [90.4, 1.85], [91.2, 1.92], [92.1, 2.28], [93.1, 2.26],
  [94.0, 2.46], [94.9, 2.65], [95.7, 2.57], [97.4, 1.92], [98.3, 2.02], [99.1, 1.99],
];

// sPV (1e-4 s^-1), time-ordered [day, value]
const SPV_L_18 = [
  [56, 0.95], [59, 0.93], [60, 0.97], [62, 2.52], [62, 2.62], [62, 2.72], [63, 2.84], [63, 2.7],
  [63, 2.55], [63, 2.45], [64, 2.59], [65, 1.6], [65, 1.4], [65, 1.2], [65, 1.0], [66, 0.95], [66, 0.92],
  [67, 1.32], [67, 1.7], [67, 2.0], [67, 2.37], [68, 2.47], [69, 2.39], [71, 2.33], [72, 2.23],
  [73, 2.17], [74, 2.1], [75, 2.07], [75, 1.97], [76, 1.91], [76, 1.59], [78, 1.72], [78, 1.88],
  [79, 1.91], [80, 1.88], [81, 1.92], [82, 1.92], [83, 2.01], [84, 2.05], [85, 1.53], [85, 1.33],
  [86, 1.15], [86, 1.4], [86, 1.69], [89, 1.27],
];
const SPV_L_22 = [
  [56, 0.95], [56, 1.01], [59, 0.99], [60, 1.0], [62, 3.38], [62, 3.3], [62, 3.2], [62, 3.05], [62, 2.9],
  [62, 2.75], [63, 2.74], [63, 2.3], [63, 1.9], [63, 1.6], [63, 1.3], [63, 1.1], [63, 0.92], [64, 1.11],
  [65, 0.82], [66, 1.07], [67, 1.32], [67, 1.6], [67, 1.85], [68, 2.33], [69, 2.23], [69, 2.5],
  [69, 2.78], [71, 2.9], [71, 2.75], [72, 2.87], [73, 2.8], [73, 2.55], [73, 2.33], [74, 2.94],
  [75, 2.69], [75, 2.75], [76, 2.75], [78, 2.75], [78, 2.7], [79, 2.69], [80, 2.69], [81, 2.62],
  [82, 2.49], [82, 2.55], [83, 2.65], [84, 2.65], [84, 2.4], [85, 1.27], [85, 1.2], [86, 1.13],
  [86, 1.6], [89, 1.13],
];
const SPV_L_26 = [
  [56, 0.85], [56, 0.88], [59, 1.11], [59, 1.0], [60, 0.9], [62, 2.39], [62, 2.0], [62, 1.6], [62, 1.2],
  [62, 0.85], [63, 1.17], [64, 1.14], [65, 1.08], [66, 1.1], [67, 1.3], [67, 1.6], [67, 2.0], [68, 2.33],
  [69, 2.62], [69, 2.2], [69, 1.6], [71, 2.62], [71, 2.2], [71, 1.75], [72, 3.13], [72, 2.9], [73, 3.32],
  [73, 3.0], [74, 2.95], [75, 3.16], [75, 3.0], [76, 2.95], [78, 2.85], [78, 2.7], [79, 2.8], [80, 2.85],
  [81, 3.03], [82, 3.05], [82, 2.85], [83, 2.9], [84, 2.85], [84, 2.55], [85, 1.35], [85, 1.25],
  [86, 1.27], [89, 1.19],
];
const SPV_R_18 = [
  [54, 0.88], [54, 1.1], [54, 1.4], [54, 1.65], [55, 1.62], [55, 1.3], [55, 1.0], [55, 0.88], [56, 0.88],
  [57, 0.85], [58, 0.95], [59, 0.98], [60, 1.0], [61, 1.11], [62, 1.17], [63, 1.33], [64, 1.78],
  [64, 1.45], [64, 1.14], [65, 1.5], [65, 1.25], [66, 0.98], [69, 0.88], [69, 0.6], [70, 0.88],
  [71, 0.82], [72, 0.92], [74, 0.9], [75, 0.88], [76, 1.01], [77, 0.83], [78, 0.88], [78, 0.95],
  [80, 1.0], [81, 0.98], [83, 1.02], [84, 1.02], [85, 0.99], [87, 0.9], [88, 1.02], [89, 1.08],
  [90, 1.08], [91, 1.09], [92, 1.1], [93, 1.08], [94, 1.08], [95, 0.83], [96, 0.77], [96, 0.9],
  [97, 1.02], [98, 1.15], [99, 0.9],
];
const SPV_R_22 = [
  [54, 0.76], [54, 0.9], [55, 1.04], [56, 1.01], [57, 1.01], [58, 0.98], [59, 1.0], [60, 0.98],
  [61, 1.1], [62, 0.96], [63, 0.81], [64, 1.14], [64, 1.3], [65, 1.17], [66, 1.3], [69, 0.72],
  [70, 1.01], [71, 1.03], [72, 1.0], [74, 1.08], [75, 1.14], [76, 1.09], [77, 0.94], [78, 1.03],
  [80, 1.14], [81, 1.17], [83, 1.17], [84, 1.14], [85, 1.16], [87, 1.17], [88, 1.17], [89, 1.19],
  [90, 1.19], [91, 1.24], [92, 1.27], [93, 1.24], [94, 1.22], [95, 0.96], [96, 0.85], [96, 0.92],
  [97, 1.15], [98, 1.09], [99, 1.06],
];
const SPV_R_26 = [
  [54, 0.79], [54, 0.88], [54, 0.98], [55, 1.21], [55, 1.14], [56, 1.14], [57, 1.11], [58, 1.08],
  [59, 1.14], [60, 1.08], [61, 1.17], [62, 1.21], [63, 1.27], [64, 1.14], [64, 1.6], [64, 1.9],
  [64, 2.2], [65, 1.11], [65, 1.35], [65, 1.59], [66, 1.59], [66, 1.2], [66, 0.88], [69, 1.16],
  [70, 1.16], [71, 1.17], [72, 1.24], [74, 1.25], [75, 1.28], [76, 1.28], [77, 1.26], [78, 1.24],
  [78, 1.17], [80, 1.08], [81, 1.08], [83, 1.36], [84, 1.32], [85, 1.33], [87, 1.24], [88, 1.26],
  [89, 1.33], [90, 1.39], [91, 1.43], [92, 1.45], [93, 1.45], [94, 1.45], [95, 1.45], [96, 1.5],
  [97, 1.46], [98, 1.47], [99, 1.5], [99, 1.4],
];

// ---------------- styling / layout ----------------
const C_BLACK = '#000000';
const C_RED = '#ff1a12';
const C_CYAN = '#20e4ee';
const C_G18 = '#22e822';
const C_B22 = '#000000';
const C_M26 = '#ff1493';
const TEXT = '#262626';

const COLS = [
  { cx0: 0, cw: 582, left: 96, right: 562, titleX: 329 },
  { cx0: 567, cw: 484, left: 572, right: 1040, titleX: 810 },
];
const ROW_EDGES = [12, 218, 426, 633, 842, 1048, 1256];
const PAGE_H = 1304;

type Part = [string, number];

function partsWidth(ctx: CanvasRenderingContext2D, parts: Part[], size: number) {
  let w = 0;
  for (const [t, k] of parts) {
    ctx.font = `${k ? size * 0.58 : size}px ${FONT}`;
    w += ctx.measureText(t).width;
  }
  return w;
}
function drawRich(ctx: CanvasRenderingContext2D, parts: Part[], x: number, y: number, size: number, align: string) {
  const w = partsWidth(ctx, parts, size);
  let cx = align === 'right' ? x - w : align === 'center' ? x - w / 2 : x;
  ctx.textAlign = 'left';
  ctx.textBaseline = 'alphabetic';
  for (const [t, k] of parts) {
    const s = k ? size * 0.58 : size;
    ctx.font = `${s}px ${FONT}`;
    const dy = k === 1 ? -size * 0.4 : k === 2 ? size * 0.22 : 0;
    ctx.fillText(t, cx, y + dy);
    cx += ctx.measureText(t).width;
  }
}

function clusterPoints(cl: number[][]) {
  const out: { x: number; y: number }[] = [];
  for (const c of cl) for (let i = 1; i < c.length; i++) out.push({ x: c[0], y: c[i] });
  return out;
}
function seqPoints(s: number[][]) {
  return s.map((p) => ({ x: p[0], y: p[1] }));
}

type Note = { parts: Part[]; x: number; y: number; size: number; color: string };

type PanelCfg = {
  key: string;
  row: number;
  col: number;
  yMin: number;
  yMax: number;
  major: number;
  minor: number;
  ticks: number[];
  tickText: string[];
  tickExp: string[];
  datasets: any[];
  notes: Note[];
};

const Y_TITLE: Part[] = [['Tot. col., mol. cm', 0], ['-2', 1]];
const SPV_TITLE: Part[] = [['sPV (x10', 0], ['-4', 1], [' s', 0], ['-1', 1], [')', 0]];

function scatterSets(black: number[][] | null, red: number[][], cyan: number[][]) {
  const sets: any[] = [
    { data: clusterPoints(cyan), backgroundColor: C_CYAN },
    { data: clusterPoints(red), backgroundColor: C_RED },
  ];
  if (black) sets.push({ data: clusterPoints(black), backgroundColor: C_BLACK });
  return sets.map((s) => ({ ...s, pointRadius: 4.4, pointBorderWidth: 0, pointHoverRadius: 4.4, showLine: false }));
}
function spvSets(s18: number[][], s22: number[][], s26: number[][]) {
  const line = (d: number[][], c: string) => ({
    data: seqPoints(d), showLine: true, borderColor: c, backgroundColor: c, borderWidth: 1,
    pointRadius: 2.6, pointBorderWidth: 0, pointHoverRadius: 2.6, tension: 0,
  });
  const lim = (v: number) => ({
    data: [{ x: DAY_MIN, y: v }, { x: DAY_MAX, y: v }], showLine: true, borderColor: '#000',
    borderWidth: 2.2, borderDash: [15, 5, 3, 5], pointRadius: 0, pointHoverRadius: 0,
  });
  return [line(s26, C_M26), line(s22, C_B22), line(s18, C_G18), ...SPV_LIMITS.map(lim)];
}

const SPECIES = [
  { parts: [['O', 0], ['3', 2]] as Part[], x: 498, y: 118 },
  { parts: [['HCl', 0]] as Part[], x: 498, y: 344 },
  { parts: [['ClONO', 0], ['2', 2]] as Part[], x: 460, y: 552 },
  { parts: [['HNO', 0], ['3', 2]] as Part[], x: 480, y: 740 },
  { parts: [['HF', 0]] as Part[], x: 498, y: 946 },
];
const LEGEND = [
  { text: '18 km', color: C_G18, y: 1076 },
  { text: '22 km', color: '#111', y: 1102 },
  { text: '26 km', color: C_M26, y: 1128 },
];

function buildPanels(): PanelCfg[] {
  const species = [
    { key: 'o3', yMin: 5, yMax: 20, major: 5, minor: 1, ticks: O3_TICKS, tickText: O3_TICK_TEXT, tickExp: O3_TICK_EXP,
      sets: [scatterSets(O3_L_BLACK, O3_L_RED, O3_L_CYAN), scatterSets(O3_R_BLACK, O3_R_RED, O3_R_CYAN)] },
    { key: 'hcl', yMin: 2, yMax: 7, major: 1, minor: 0.1, ticks: HCL_TICKS, tickText: HCL_TICK_TEXT, tickExp: HCL_TICK_EXP,
      sets: [scatterSets(HCL_L_BLACK, HCL_L_RED, HCL_L_CYAN), scatterSets(HCL_R_BLACK, HCL_R_RED, HCL_R_CYAN)] },
    { key: 'clono2', yMin: 0, yMax: 5, major: 1, minor: 0.1, ticks: CLONO2_TICKS, tickText: CLONO2_TICK_TEXT, tickExp: CLONO2_TICK_EXP,
      sets: [scatterSets(null, CLONO2_L_RED, CLONO2_L_CYAN), scatterSets(null, CLONO2_R_RED, CLONO2_R_CYAN)] },
    { key: 'hno3', yMin: 1, yMax: 5, major: 1, minor: 0.1, ticks: HNO3_TICKS, tickText: HNO3_TICK_TEXT, tickExp: HNO3_TICK_EXP,
      sets: [scatterSets(HNO3_L_BLACK, HNO3_L_RED, HNO3_L_CYAN), scatterSets(HNO3_R_BLACK, HNO3_R_RED, HNO3_R_CYAN)] },
    { key: 'hf', yMin: 1, yMax: 4, major: 1, minor: 0.1, ticks: HF_TICKS, tickText: HF_TICK_TEXT, tickExp: HF_TICK_EXP,
      sets: [scatterSets(HF_L_BLACK, HF_L_RED, HF_L_CYAN), scatterSets(HF_R_BLACK, HF_R_RED, HF_R_CYAN)] },
    { key: 'spv', yMin: 0, yMax: 4, major: 1, minor: 0.1, ticks: SPV_TICKS, tickText: SPV_TICK_TEXT, tickExp: SPV_TICK_EXP,
      sets: [spvSets(SPV_L_18, SPV_L_22, SPV_L_26), spvSets(SPV_R_18, SPV_R_22, SPV_R_26)] },
  ];
  const out: PanelCfg[] = [];
  species.forEach((sp, row) => {
    for (let col = 0; col < 2; col++) {
      const notes: Note[] = [];
      if (col === 0 && row < 5) {
        const s = SPECIES[row];
        notes.push({ parts: s.parts, x: s.x, y: s.y, size: 24, color: '#333' });
      }
      if (col === 0 && row === 5) {
        for (const l of LEGEND) notes.push({ parts: [[l.text, 0]], x: 498, y: l.y, size: 13, color: l.color });
      }
      out.push({
        key: sp.key + col, row, col, yMin: sp.yMin, yMax: sp.yMax, major: sp.major, minor: sp.minor,
        ticks: sp.ticks, tickText: sp.tickText, tickExp: sp.tickExp, datasets: sp.sets[col], notes,
      });
    }
  });
  return out;
}

function makeAxesPlugin(p: PanelCfg, ox: number, oy: number) {
  return {
    id: 'idlAxes',
    afterDraw(chart: any) {
      const ctx: CanvasRenderingContext2D = chart.ctx;
      const xs = chart.scales.x;
      const ys = chart.scales.y;
      const { left, right, top, bottom } = chart.chartArea;
      ctx.save();
      ctx.strokeStyle = '#000';
      ctx.lineWidth = 1.2;
      ctx.beginPath();
      for (let d = DAY_MIN; d <= DAY_MAX; d++) {
        const px = Math.round(xs.getPixelForValue(d)) + 0.5;
        const len = d % 10 === 0 ? 7 : 4;
        ctx.moveTo(px, bottom); ctx.lineTo(px, bottom - len);
        ctx.moveTo(px, top); ctx.lineTo(px, top + len);
      }
      const n = Math.round((p.yMax - p.yMin) / p.minor);
      for (let i = 0; i <= n; i++) {
        const v = p.yMin + i * p.minor;
        const r = v / p.major;
        const isMajor = Math.abs(r - Math.round(r)) < 1e-6;
        const py = Math.round(ys.getPixelForValue(v)) + 0.5;
        const len = isMajor ? 9 : 4;
        ctx.moveTo(left, py); ctx.lineTo(left + len, py);
        ctx.moveTo(right, py); ctx.lineTo(right - len, py);
      }
      ctx.stroke();
      ctx.lineWidth = 1.6;
      ctx.strokeRect(left, top, right - left, bottom - top);

      ctx.fillStyle = TEXT;
      if (p.col === 0) {
        p.ticks.forEach((v, i) => {
          const py = ys.getPixelForValue(v);
          let dy = 7;
          if (v === p.yMax) dy = 11;
          if (v === p.yMin) dy = p.row === 5 ? 2 : -1;
          const parts: Part[] = [[p.tickText[i], 0]];
          if (p.tickExp[i]) parts.push([p.tickExp[i], 1]);
          drawRich(ctx, parts, left - 4, py + dy, 14, 'right');
        });
        ctx.save();
        const isSpv = p.row === 5;
        ctx.translate(isSpv ? 70 : 32, (top + bottom) / 2);
        ctx.rotate(-Math.PI / 2);
        drawRich(ctx, isSpv ? SPV_TITLE : Y_TITLE, 0, 0, isSpv ? 13 : 12, 'center');
        ctx.restore();
      }
      if (p.row === 5) {
        for (const t of DAY_TICK_LABELS) {
          drawRich(ctx, [[String(t), 0]], xs.getPixelForValue(t), bottom + 24, 14, 'center');
        }
        drawRich(ctx, [['Day of year, ' + YEARS[p.col], 0]], COLS[p.col].titleX - ox, 1294 - oy, 13, 'center');
      }
      for (const nt of p.notes) {
        ctx.fillStyle = nt.color;
        drawRich(ctx, nt.parts, nt.x - ox, nt.y - oy, nt.size, 'left');
      }
      ctx.restore();
    },
  };
}

function Panel({ p }: { p: PanelCfg }) {
  const ref = useRef<HTMLCanvasElement | null>(null);
  const col = COLS[p.col];
  const top = ROW_EDGES[p.row];
  const bot = ROW_EDGES[p.row + 1];
  const oy = top - 14;
  const h = p.row === 5 ? PAGE_H - oy : bot - top + 28;
  const ox = col.cx0;
  const w = col.cw;
  useEffect(() => {
    if (!ref.current) return;
    const chart = new Chart(ref.current, {
      type: 'scatter',
      data: { datasets: p.datasets },
      options: {
        animation: false,
        responsive: false,
        events: [],
        layout: { padding: { left: col.left - ox, right: ox + w - col.right, top: 14, bottom: oy + h - bot } },
        plugins: { legend: { display: false }, tooltip: { enabled: false }, title: { display: false } },
        scales: {
          x: { type: 'linear', min: DAY_MIN, max: DAY_MAX, display: false },
          y: { type: 'linear', min: p.yMin, max: p.yMax, display: false },
        },
      },
      plugins: [makeAxesPlugin(p, ox, oy)],
    } as any);
    return () => chart.destroy();
  }, []);
  return (
    <canvas
      ref={ref}
      width={w}
      height={h}
      style={{ position: 'absolute', left: ox, top: oy, width: w, height: h }}
    />
  );
}

export default function App() {
  const panels = buildPanels();
  return (
    <div style={{ position: 'absolute', left: 0, top: 0, width: 1051, height: PAGE_H, background: '#fff', overflow: 'hidden' }}>
      {panels.map((p) => (
        <Panel key={p.key} p={p} />
      ))}
    </div>
  );
}
